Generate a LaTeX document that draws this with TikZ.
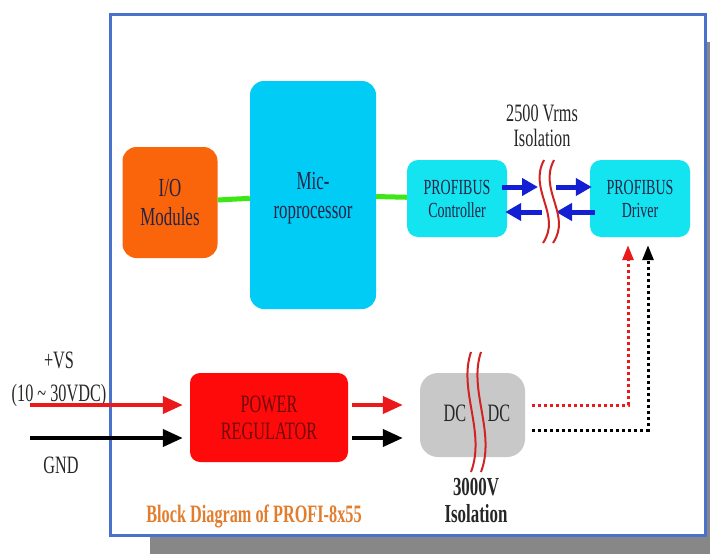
\documentclass[tikz,border=0pt]{standalone}
\usepackage{fontspec}
\setmainfont{Liberation Serif}
\newfontfamily\narrowserif[FakeStretch=0.65]{Liberation Serif}
\usetikzlibrary{arrows.meta}

\definecolor{frameblue}{RGB}{72,114,206}
\definecolor{shadowgray}{RGB}{135,135,135}
\definecolor{ioorange}{RGB}{250,100,10}
\definecolor{cpucyan}{RGB}{0,204,245}
\definecolor{profcyan}{RGB}{20,228,240}
\definecolor{regred}{RGB}{255,10,10}
\definecolor{dcgray}{RGB}{200,200,200}
\definecolor{linkgreen}{RGB}{60,232,20}
\definecolor{busblue}{RGB}{20,30,210}
\definecolor{pwrred}{RGB}{235,25,25}
\definecolor{isored}{RGB}{210,35,35}
\definecolor{titleorange}{RGB}{225,125,45}
\definecolor{boxtext}{RGB}{35,35,70}

\tikzset{
  blk/.style={rounded corners=14pt, align=center, text=boxtext, text depth=0pt,
    font=\narrowserif\fontsize{26}{29}\selectfont},
  iobox/.style={blk, fill=ioorange, minimum width=95pt, minimum height=111pt},
  cpubox/.style={blk, fill=cpucyan, minimum width=126pt, minimum height=228pt},
  pbox/.style={blk, fill=profcyan, rounded corners=11pt, minimum width=100pt,
    minimum height=77pt, font=\narrowserif\fontsize{21.5}{23}\selectfont},
  regbox/.style={blk, fill=regred, rounded corners=10pt, minimum width=158pt,
    minimum height=89pt, text={rgb,255:red,110;green,10;blue,10},
    font=\narrowserif\fontsize{25}{27}\selectfont},
  dcbox/.style={fill=dcgray, rounded corners=18pt, minimum width=105pt, minimum height=84pt},
  dctext/.style={text=black!85, font=\narrowserif\fontsize{25}{27}\selectfont},
  lbl/.style={align=center, text=black!85, text depth=0pt,
    font=\narrowserif\fontsize{25}{25}\selectfont},
  boldlbl/.style={lbl, font=\narrowserif\bfseries\fontsize{26}{27}\selectfont},
  title/.style={text=titleorange, font=\narrowserif\bfseries\fontsize{25}{27}\selectfont},
  frame/.style={draw=frameblue, line width=3pt, fill=white},
  link/.style={draw=linkgreen, line width=5pt},
  bus/.style={draw=busblue, line width=5pt, -{Triangle[length=16pt,width=17pt]}},
  pwr/.style={line width=4pt, -{Triangle[length=20pt,width=17pt]}},
  feed/.style={line width=3pt, dash pattern=on 3pt off 3pt, -{Triangle[length=15pt,width=11pt]}},
  iso/.style={draw=isored, line width=2pt}
}

\begin{document}
\begin{tikzpicture}[x=1pt,y=-1pt]
\useasboundingbox (0,0) rectangle (710,554);

% shadow and frame
\fill[shadowgray] (150,42) rectangle (710,554);
\draw[frame] (110,14) rectangle (705,535);

% blocks
\node[iobox] (io) at (170,202.5) {I/O\\Modules};
\node[cpubox] (cpu) at (313,195) {Mic-\\roprocessor};
\node[pbox] (ctrl) at (457,198.5) {PROFIBUS\\Controller};
\node[pbox] (drv) at (640,198.5) {PROFIBUS\\Driver};
\node[regbox] (reg) at (269,417.5) {POWER\\REGULATOR};
\node[dcbox] (dc) at (472.5,415) {};
\node[dctext] (dcin) at (455,413) {DC};
\node[dctext] (dcout) at (499,413) {DC};

% labels
\node[lbl] (isobus) at (542,126) {2500 Vrms\\Isolation};
\node[lbl,font=\narrowserif\fontsize{25}{33}\selectfont] (vs) at (59,377) {+VS\\(10 \textasciitilde{} 30VDC)};
\node[lbl,anchor=base] (gnd) at (61,473) {GND};
\node[boldlbl] (isodc) at (476,500) {3000V\\Isolation};
\node[title,anchor=base] (cap) at (254,522) {Block Diagram of PROFI-8x55};

% data links
\draw[link] (io) -- (cpu);
\draw[link] (cpu) -- (ctrl);

% isolated bus
\coordinate (isoW) at (538,198.5);
\coordinate (isoE) at (556,198.5);
\draw[bus] ([xshift=-5pt,yshift=11.5pt]ctrl.east) -- ([yshift=11.5pt]isoW);
\draw[bus] ([yshift=11.5pt]isoE) -- ([xshift=2pt,yshift=11.5pt]drv.west);
\draw[bus] ([xshift=5pt,yshift=-13.5pt]drv.west) -- ([yshift=-13.5pt]isoE);
\draw[bus] ([xshift=4pt,yshift=-13.5pt]isoW) -- ([xshift=-2pt,yshift=-13.5pt]ctrl.east);
\foreach \dx in {0,10}
  \draw[iso,xshift=\dx pt] (544,160) .. controls (528,190) and (562,215) .. (543,243);
\foreach \dx in {0,10}
  \draw[iso,xshift=\dx pt] (471,352) .. controls (458,390) and (486,432) .. (471,472);

% power
\coordinate (vsin) at (30,405);
\coordinate (gndin) at (30,438);
\draw[pwr,pwrred,shorten >=7pt] (vsin) -- (vsin -| reg.west);
\draw[pwr,black,shorten >=7pt] (gndin) -- (gndin -| reg.west);
\draw[pwr,pwrred,shorten <=4pt,shorten >=17pt] (vsin -| reg.east) -- (vsin -| dc.west);
\draw[pwr,black,shorten <=4pt,shorten >=17pt] (gndin -| reg.east) -- (gndin -| dc.west);

\coordinate (vsout) at (532,405);
\coordinate (gndout) at (532,430);
\draw[feed,pwrred,shorten >=8pt] (vsout) -| ([xshift=-12pt]drv.south);
\draw[feed,black,shorten >=8pt] (gndout) -| ([xshift=8pt]drv.south);
\end{tikzpicture}
\end{document}
